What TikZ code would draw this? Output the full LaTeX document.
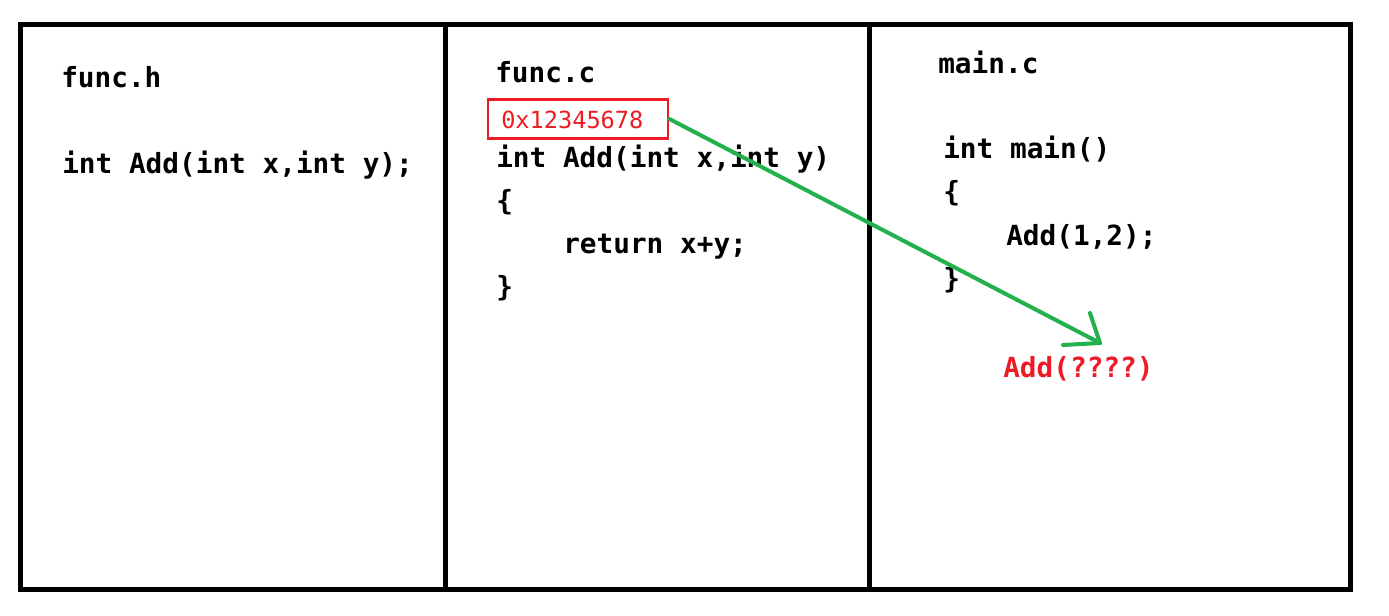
\documentclass[tikz,border=0pt]{standalone}
\usepackage{fontspec}
\newfontfamily\codefont{DejaVu Sans Mono}[FakeBold=0]
\newfontfamily\codebold{DejaVu Sans Mono Bold}
\newfontfamily\addrfont{DejaVu Sans Mono}
\definecolor{pred}{RGB}{237,28,36}
\definecolor{pgreen}{RGB}{34,177,76}
\begin{document}
\begin{tikzpicture}[x=0.75pt,y=-0.75pt,
  code/.style={anchor=base west,inner sep=0pt,font=\codebold\fontsize{20.8pt}{24pt}\selectfont},
  redcode/.style={code,text=pred},
  addr/.style={anchor=base west,inner sep=0pt,font=\addrfont\fontsize{17.7pt}{20pt}\selectfont,text=pred},
  frame/.style={draw=black,line width=3.75pt},
  divider/.style={draw=black,line width=3.2pt},
  addrbox/.style={draw=pred,line width=2.2pt,fill=none},
  greenline/.style={draw=pgreen,line width=3pt,line cap=round,line join=round}]
\useasboundingbox (0,0) rectangle (1389,615);
% frame and dividers
\draw[frame] (20.5,24.5) rectangle (1350.5,589.5);
\draw[divider] (445.5,24.5) -- (445.5,589.5);
\draw[divider] (869.5,24.5) -- (869.5,589.5);
% func.h
\node[code] (fh) at (61,87) {func.h};
\node[code] (fhdecl) at (62,173) {int Add(int x,int y);};
% func.c
\node[code] (fc) at (495,82) {func.c};
\node[addrbox,minimum width=180*0.75pt,minimum height=39*0.75pt,inner sep=0pt] (box) at (578,119) {};
\node[addr] (addr) at (501,128) {0x12345678};
\node[code] (fc1) at (496,167) {int Add(int x,int y)};
\node[code] (fc2) at (496,210) {\{};
\node[code] (fc3) at (563,253) {return x+y;};
\node[code] (fc4) at (496,296) {\}};
% main.c
\node[code] (mc) at (938,73) {main.c};
\node[code] (mc1) at (943,158) {int main()};
\node[code] (mc2) at (943,201) {\{};
\node[code] (mc3) at (1006,245) {Add(1,2);};
\node[code] (mc4) at (943,288) {\}};
\node[redcode] (unk) at (1003,377) {Add(????)};
% arrow
\coordinate (tip) at (1100,343);
\draw[greenline] (box.east) -- (tip);
\draw[greenline] (tip) -- ++(-10,-30);
\draw[greenline] (tip) -- ++(-37,2);
\end{tikzpicture}
\end{document}
